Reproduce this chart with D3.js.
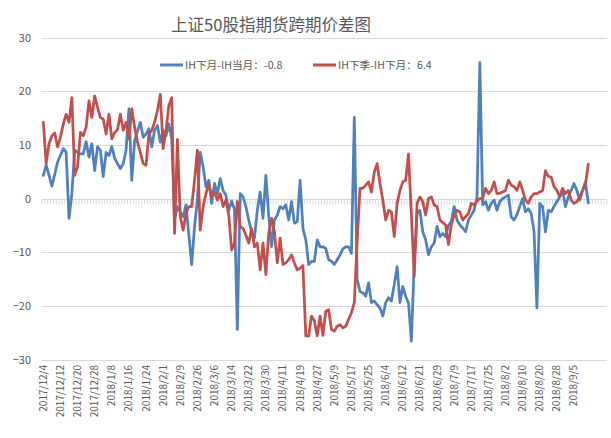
<!DOCTYPE html>
<html>
<head>
<meta charset="utf-8">
<script src="https://cdn.jsdelivr.net/npm/d3@7"></script>
<style>
  body { margin: 0; background: #fff; }
  svg { display: block; }
  text { font-family: "Noto Sans CJK SC", "Noto Sans", sans-serif; fill: #595959; }
</style>
</head>
<body>
<svg id="chart" width="611" height="438"></svg>
<script>
// IH下月-IH当月, one value per trading day from 2017/12/4
var nextMinusCurrent = [
  4.3, 6.2, 4.3, 2.3, 4.5, 6.8, 8.0, 9.3, 8.6, -3.7,
  0.9, 9.0, 8.6, 8.3, 8.3, 10.6, 7.7, 10.2, 5.2, 9.6,
  9.0, 4.1, 8.6, 8.0, 9.7, 7.5, 6.5, 5.6, 6.5, 9.0,
  16.7, 3.4, 10.8, 12.5, 14.2, 11.4, 12.0, 13.0, 9.6, 12.7,
  13.6, 10.5, 12.7, 11.7, 13.9, 11.1, -4.0, -1.5, -2.5, -3.4,
  -1.2, -6.8, -12.3, -5.2, -0.3, 8.6, 5.9, 2.2, 3.4, -0.9,
  2.8, 0.9, 3.7, 1.5, 0.6, -2.2, -0.5, -2.0, -24.4, 0.9,
  0.3, -1.5, -4.0, -6.2, -7.4, -2.2, 1.2, -3.7, 4.3, -3.1,
  -9.0, -4.0, -3.1, -1.5, -1.9, -1.2, -4.0, -0.6, -4.6, -4.3,
  3.4, -5.6, -7.7, -12.3, -11.7, -11.7, -7.7, -9.0, -9.0, -9.3,
  -11.4, -11.7, -12.3, -11.4, -10.5, -9.4, -9.0, -9.0, -10.2, 15.1,
  -15.1, -17.3, -17.6, -18.2, -15.7, -19.4, -19.1, -19.8, -20.4, -21.9,
  -19.4, -18.5, -19.1, -16.0, -12.7, -19.4, -16.4, -18.2, -19.5, -26.6,
  -12.0, -2.8, -2.2, -6.2, -7.7, -10.5, -9.0, -8.3, -5.2, -7.1,
  -6.5, -7.1, -5.0, -4.3, -1.5, -4.0, -4.9, -5.5, -6.2, -4.0,
  -3.1, -2.2, 0.3, 25.3, -1.2, -0.6, -2.2, -0.9, -0.3, -2.2,
  -0.6, 0.0, 0.3, 0.6, -3.4, -4.0, -3.0, -1.5, 0.0, -2.5,
  -1.9, -2.8, -6.2, -20.4, -0.9, -1.5, -6.2, -2.2, -2.5, -1.5,
  -0.6, 0.3, 1.5, -1.5, 0.3, 1.5, 2.8, 1.5, -0.3, 1.5,
  3.1, -0.8
];

// IH下季-IH下月
var quarterMinusNext = [
  14.2, 6.5, 10.2, 11.7, 12.2, 9.6, 11.4, 13.9, 15.7, 14.2,
  18.8, 4.3, 5.9, 12.3, 11.7, 13.3, 18.2, 15.1, 19.1, 17.0,
  15.1, 14.8, 12.0, 15.7, 11.1, 12.3, 12.8, 15.7, 12.7, 14.2,
  11.1, 16.7, 13.3, 10.5, 8.6, 6.5, 6.2, 12.0, 12.7, 14.2,
  16.4, 19.4, 9.3, 12.7, 17.3, 18.8, -6.5, 11.0, -3.4, -5.9,
  -2.8, -1.5, -1.5, 3.4, 9.0, -5.9, -1.5, 0.9, 2.8, 0.3,
  1.2, -0.3, 0.9, -1.5, -0.3, -3.1, -9.6, -8.3, -0.6, -5.2,
  -5.6, -6.8, -8.3, -5.6, -9.0, -8.3, -13.3, -8.3, -14.2, -6.5,
  -3.7, -6.2, -12.0, -7.4, -12.3, -12.0, -11.4, -10.5, -12.0, -13.3,
  -13.0, -12.5, -25.6, -25.6, -21.9, -22.8, -25.6, -21.9, -25.5, -21.0,
  -20.7, -24.4, -24.7, -23.8, -23.5, -24.1, -23.8, -22.5, -21.3, -19.4,
  -8.0, 1.9, 1.9, 2.5, 3.1, 1.2, 4.9, 6.5, 2.8, -0.3,
  -4.0, -2.2, -2.5, -7.1, -0.9, 1.5, 3.1, 3.4, 8.3, -3.0,
  -14.5, -0.9, 0.3, -0.6, -3.1, 0.0, 0.3, -1.2, -1.5, -4.0,
  -4.5, -4.9, -8.6, -4.9, -3.1, -2.2, -2.5, -4.0, -3.4, -2.8,
  -0.9, -1.2, -0.5, 0.0, 0.0, 1.9, 0.9, 1.5, 3.1, 0.9,
  1.0, 1.2, 1.5, 3.4, 2.5, 2.2, 1.5, 3.1, 1.5, -0.3,
  -0.9, 0.3, 0.9, 0.9, 1.2, 1.5, 5.2, 4.1, 4.0, 2.2,
  1.5, 0.3, 1.9, 0.9, 1.5, -0.3, -0.9, -0.6, 0.3, 1.5,
  2.5, 6.4
];

// category labels, shown every 6th trading day
var tickLabels = [
  "2017/12/4", "2017/12/12", "2017/12/20", "2017/12/28", "2018/1/8", "2018/1/16",
  "2018/1/24", "2018/2/1", "2018/2/9", "2018/2/26", "2018/3/6", "2018/3/14",
  "2018/3/22", "2018/3/30", "2018/4/11", "2018/4/19", "2018/4/27", "2018/5/9",
  "2018/5/17", "2018/5/25", "2018/6/4", "2018/6/12", "2018/6/21", "2018/6/29",
  "2018/7/9", "2018/7/17", "2018/7/25", "2018/8/2", "2018/8/10", "2018/8/20",
  "2018/8/28", "2018/9/5"
];
var yTicks = [30, 20, 10, 0, -10, -20, -30];
var seriesNames = ["IH下月-IH当月：-0.8", "IH下季-IH下月：6.4"];
var colors = ["#4F81BD", "#C0504D"];

var labelStep = 6, categoryCount = 198;
var plot = {left: 41.9, right: 606.8, top: 37.5, bottom: 359.5};

var svg = d3.select("#chart");

var x = d3.scaleBand()
  .domain(d3.range(categoryCount))
  .range([plot.left, plot.right]);
var y = d3.scaleLinear()
  .domain([-30, 30])
  .range([plot.bottom, plot.top]);

function cx(i) { return x(i) + x.bandwidth() / 2; }

// title
svg.append("text")
  .attr("x", 271)
  .attr("y", 31)
  .attr("text-anchor", "middle")
  .style("font-size", "16.5px")
  .text("上证50股指期货跨期价差图");

// gridlines
svg.append("g").selectAll("line")
  .data(yTicks.filter(function(d) { return d !== 0; }))
  .enter().append("line")
    .attr("x1", plot.left).attr("x2", plot.right)
    .attr("y1", function(d) { return Math.round(y(d)) + 0.5; })
    .attr("y2", function(d) { return Math.round(y(d)) + 0.5; })
    .attr("stroke", "#D9D9D9");

// y axis labels
var yAxis = d3.axisLeft(y).tickValues(yTicks).tickSize(0).tickPadding(0);
svg.append("g")
  .attr("transform", "translate(31,0)")
  .call(yAxis)
  .call(function(g) { g.select(".domain").remove(); })
  .selectAll("text")
    .style("font-size", "11px")
    .style("font-family", "\"Noto Sans CJK SC\", sans-serif")
    .attr("fill", "#595959");

// category axis crossing at zero, with a tick at every category boundary
var y0 = Math.round(y(0)) + 0.5;
var axisG = svg.append("g");
axisG.append("line")
  .attr("x1", plot.left).attr("x2", plot.right)
  .attr("y1", y0).attr("y2", y0)
  .attr("stroke", "#D9D9D9");
axisG.selectAll(".tick")
  .data(d3.range(categoryCount + 1))
  .enter().append("line")
    .attr("class", "tick")
    .attr("x1", function(d) { return plot.left + d * x.step(); })
    .attr("x2", function(d) { return plot.left + d * x.step(); })
    .attr("y1", y0).attr("y2", y0 + 5)
    .attr("stroke", "#D0D0D0")
    .attr("stroke-width", 0.8);

// category labels at the bottom, rotated
svg.append("g").selectAll("text")
  .data(tickLabels)
  .enter().append("text")
    .attr("transform", function(d, k) {
      return "translate(" + (cx(k * labelStep) + 3.5) + "," + 365 + ") rotate(-90)";
    })
    .attr("text-anchor", "end")
    .style("font-size", "10px")
    .text(function(d) { return d; });

// legend
var legend = svg.append("g");
var legendX = [160, 313];
seriesNames.forEach(function(name, k) {
  legend.append("line")
    .attr("x1", legendX[k]).attr("x2", legendX[k] + 23)
    .attr("y1", 65).attr("y2", 65)
    .attr("stroke", colors[k])
    .attr("stroke-width", 3);
  legend.append("text")
    .attr("x", legendX[k] + 25)
    .attr("y", 69)
    .style("font-size", "10.7px")
    .text(name);
});

// lines
var line = d3.line()
  .x(function(d, i) { return cx(i); })
  .y(function(d) { return y(d); });

[nextMinusCurrent, quarterMinusNext].forEach(function(series, k) {
  svg.append("path")
    .datum(series)
    .attr("d", line)
    .attr("fill", "none")
    .attr("stroke", colors[k])
    .attr("stroke-width", 2.75)
    .attr("stroke-linejoin", "round")
    .attr("stroke-linecap", "round");
});
</script>
</body>
</html>
